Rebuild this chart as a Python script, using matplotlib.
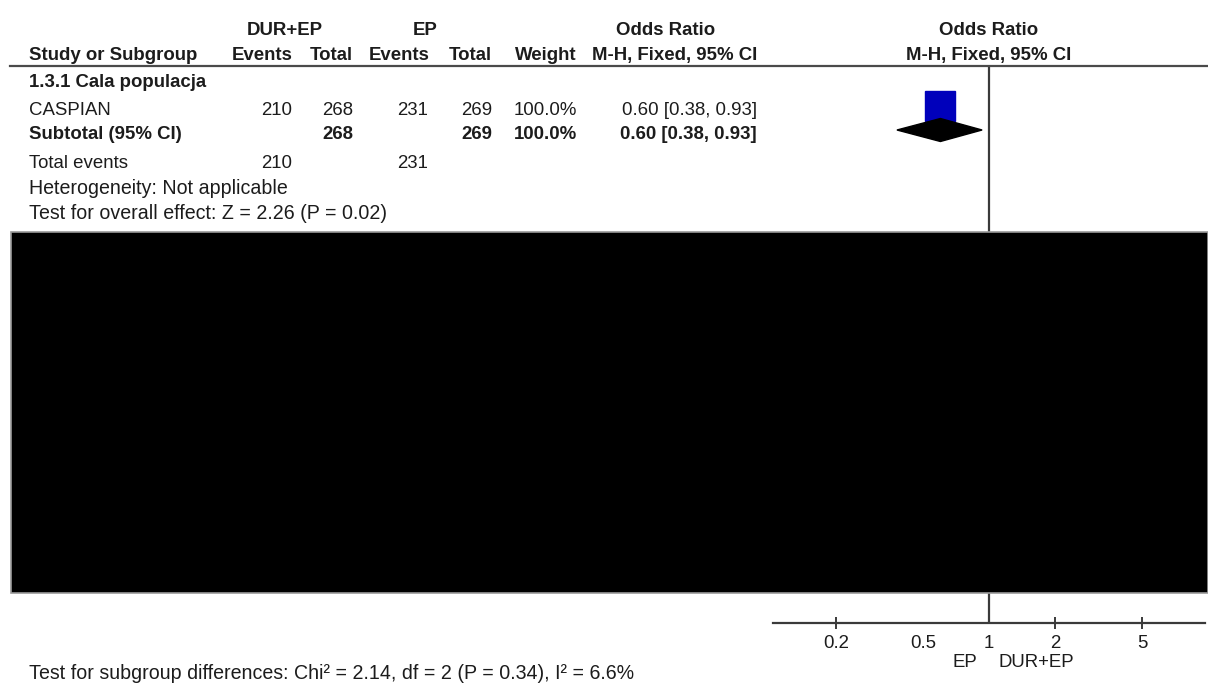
import matplotlib
matplotlib.use("Agg")
import matplotlib.pyplot as plt
from matplotlib.patches import Rectangle, Polygon
from matplotlib.lines import Line2D

plt.rcParams["font.family"] = ["Liberation Sans", "DejaVu Sans"]

# ---- data ----
group_names = ["DUR+EP", "EP"]
subgroup_title = "1.3.1 Cala populacja"
studies = ["CASPIAN"]
exp_events = [210]
exp_total = [268]
ctl_events = [231]
ctl_total = [269]
weights = ["100.0%"]
odds_ratio = [0.60]
ci_low = [0.38]
ci_high = [0.93]

subtotal_or = 0.60
subtotal_low = 0.38
subtotal_high = 0.93
subtotal_exp_total = 268
subtotal_ctl_total = 269

heterogeneity = "Heterogeneity: Not applicable"
overall_effect = "Test for overall effect: Z = 2.26 (P = 0.02)"
subgroup_diff = "Test for subgroup differences: Chi\u00b2 = 2.14, df = 2 (P = 0.34), I\u00b2 = 6.6%"

tick_values = [0.2, 0.5, 1, 2, 5]
tick_labels = ["0.2", "0.5", "1", "2", "5"]
favours_left = "EP"
favours_right = "DUR+EP"

# ---- layout (pixel geometry of a 1208x686 canvas) ----
W, H = 1208, 686
DPI = 100
FS = 13.4
FS_NOTE = 14.1
TXT = "#1c1c1c"

fig = plt.figure(figsize=(W / DPI, H / DPI), dpi=DPI)
fig.patch.set_facecolor("white")


def px(x, y):
    return x / W, 1 - y / H


def put(x, y, s, ha="left", bold=False, color=TXT, size=FS):
    # y is the visual middle of capital letters
    fx, fy = px(x, y + 6.6)
    fig.text(fx, fy, s, ha=ha, va="baseline", fontsize=size,
             fontweight="bold" if bold else "normal", color=color)


# header
put(285, 28, group_names[0], ha="center", bold=True)
put(425, 28, group_names[1], ha="center", bold=True)
put(666, 28, "Odds Ratio", ha="center", bold=True)
put(989, 28, "Odds Ratio", ha="center", bold=True)
put(29, 53, "Study or Subgroup", bold=True)
put(293, 53, "Events", ha="right", bold=True)
put(353, 53, "Total", ha="right", bold=True)
put(430, 53, "Events", ha="right", bold=True)
put(492, 53, "Total", ha="right", bold=True)
put(577, 53, "Weight", ha="right", bold=True)
put(757, 53, "M-H, Fixed, 95% CI", ha="right", bold=True)
put(989, 53, "M-H, Fixed, 95% CI", ha="center", bold=True)

fig.add_artist(Line2D([10 / W, 1.0], [1 - 66 / H, 1 - 66 / H],
                      color="#4a4a4a", lw=1.6))

# subgroup block
put(29, 80, subgroup_title, bold=True)
row_y = [108]
for i, name in enumerate(studies):
    y = row_y[i]
    put(29, y, name)
    put(292, y, str(exp_events[i]), ha="right")
    put(353, y, str(exp_total[i]), ha="right")
    put(428, y, str(ctl_events[i]), ha="right")
    put(492, y, str(ctl_total[i]), ha="right")
    put(577, y, weights[i], ha="right")
    put(757, y, f"{odds_ratio[i]:.2f} [{ci_low[i]:.2f}, {ci_high[i]:.2f}]", ha="right")

sub_y = 132
put(29, sub_y, "Subtotal (95% CI)", bold=True)
put(353, sub_y, str(subtotal_exp_total), ha="right", bold=True)
put(492, sub_y, str(subtotal_ctl_total), ha="right", bold=True)
put(577, sub_y, "100.0%", ha="right", bold=True)
put(757, sub_y, f"{subtotal_or:.2f} [{subtotal_low:.2f}, {subtotal_high:.2f}]",
    ha="right", bold=True)

put(29, 161, "Total events")
put(292, 161, str(sum(exp_events)), ha="right")
put(428, 161, str(sum(ctl_events)), ha="right")
put(29, 187, heterogeneity, size=FS_NOTE)
put(29, 212, overall_effect, size=FS_NOTE)
put(29, 672, subgroup_diff, size=FS_NOTE)

# forest panel on a log axis, y measured in canvas rows
left, right, top, bottom = 773, 1205, 66, 623
ax = fig.add_axes([left / W, 1 - bottom / H, (right - left) / W, (bottom - top) / H])
ax.set_xscale("log")
ax.set_xlim(10 ** -0.986, 10 ** 0.986)
ax.set_ylim(bottom, top)
ax.patch.set_alpha(0)
for s in ("top", "left", "right"):
    ax.spines[s].set_visible(False)
ax.spines["bottom"].set_color("#3a3a3a")
ax.spines["bottom"].set_linewidth(1.6)
ax.set_yticks([])
ax.set_xticks(tick_values)
ax.set_xticklabels(tick_labels)
ax.xaxis.set_minor_locator(matplotlib.ticker.NullLocator())
ax.tick_params(axis="x", direction="inout", length=9, width=1.4, color="#3a3a3a",
               labelsize=FS, labelcolor=TXT, pad=4)
for t, v in zip(ax.xaxis.get_major_ticks(), tick_values):
    if v in (0.5, 1):
        t.tick1line.set_visible(False)

ax.axvline(1, color="#3a3a3a", lw=1.6, zorder=1)

for i in range(len(studies)):
    ax.plot(odds_ratio[i], row_y[i] - 2, marker="s", markersize=21.6,
            color="#0000bb", markeredgecolor="#0000bb", zorder=3)

diamond = Polygon([(subtotal_low, 130), (subtotal_or, 118.5),
                   (subtotal_high, 130), (subtotal_or, 141.5)],
                  closed=True, facecolor="black", edgecolor="black", zorder=3)
ax.add_patch(diamond)

ax.annotate(favours_left, xy=(1, 0), xycoords=("data", "axes fraction"),
            xytext=(-12, -44), textcoords="offset pixels", ha="right",
            va="baseline", fontsize=FS, color=TXT)
ax.annotate(favours_right, xy=(1, 0), xycoords=("data", "axes fraction"),
            xytext=(9, -44), textcoords="offset pixels", ha="left",
            va="baseline", fontsize=FS, color=TXT)

# masked region
fig.add_artist(Rectangle((11 / W, 1 - 593 / H), (W - 11) / W, (593 - 232) / H,
                         facecolor="black", edgecolor="#9a9a9a", lw=1.2, zorder=5))

fig.savefig("out.png", dpi=DPI, facecolor="white")
